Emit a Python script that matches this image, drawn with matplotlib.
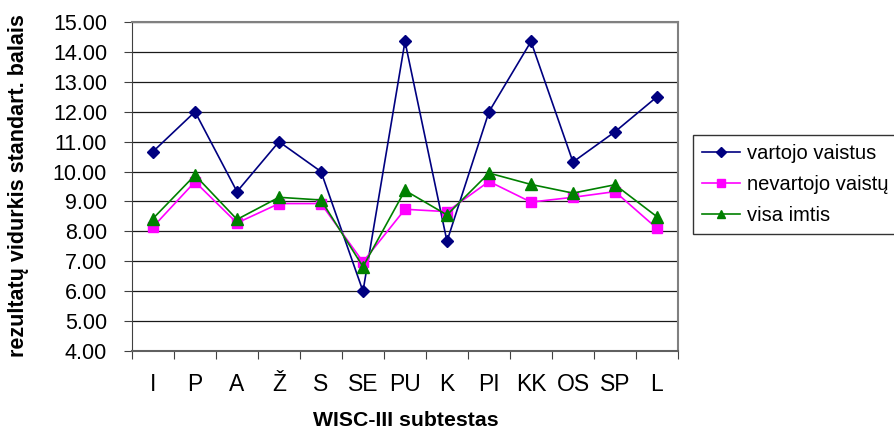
import matplotlib
matplotlib.use("Agg")
import matplotlib.pyplot as plt
import numpy as np

plt.rcParams['font.family'] = ['Liberation Sans', 'DejaVu Sans']

subtests = ['I', 'P', 'A', 'Ž', 'S', 'SE', 'PU', 'K', 'PI', 'KK', 'OS', 'SP', 'L']
vartojo = [10.67, 12.00, 9.33, 11.00, 10.00, 6.00, 14.35, 7.67, 12.00, 14.35, 10.32, 11.33, 12.50]
nevartojo = [8.15, 9.66, 8.28, 8.93, 8.93, 6.98, 8.74, 8.66, 9.67, 8.98, 9.14, 9.33, 8.10]
visa = [8.43, 9.88, 8.40, 9.14, 9.05, 6.82, 9.37, 8.55, 9.95, 9.57, 9.28, 9.56, 8.49]

fig = plt.figure(figsize=(8.95, 4.30), dpi=100)
ax = fig.add_axes([0.1475, 0.1837, 0.610, 0.765])

x = np.arange(len(subtests))
ax.plot(x, vartojo, color='#000080', marker='D', markersize=6, lw=1.2, label='vartojo vaistus')
ax.plot(x, nevartojo, color='#FF00FF', marker='s', markersize=7, lw=1.2, label='nevartojo vaistų')
ax.plot(x, visa, color='#008000', marker='^', markersize=8, lw=1.2, label='visa imtis')

ax.set_ylim(4, 15)
ax.set_yticks(np.arange(4, 16, 1))
ax.set_yticklabels([f'{v:.2f}' for v in np.arange(4, 16, 1)], fontsize=15.5)
ax.yaxis.grid(True, color='#1a1a1a', lw=0.9)
ax.set_axisbelow(True)

ax.set_xlim(-0.5, len(subtests) - 0.5)
ax.set_xticks(np.arange(-0.5, len(subtests), 1))
ax.set_xticklabels([])
ax.set_xticks(x, minor=True)
ax.set_xticklabels(subtests, minor=True, fontsize=16.5)
ax.tick_params(axis='x', which='minor', length=0, pad=16)
ax.tick_params(axis='x', which='major', length=6, color='#404040')
ax.tick_params(axis='y', length=6, color='#404040', pad=12)

for side in ['top', 'right']:
    ax.spines[side].set_color('#808080')
    ax.spines[side].set_linewidth(1.5)
ax.spines['left'].set_color('#404040')
ax.spines['bottom'].set_color('#606060')
ax.spines['bottom'].set_linewidth(1.5)

fig.text(0.021, 0.568, 'rezultatų vidurkis standart. balais', rotation=90,
         ha='center', va='center', fontsize=15.5, fontweight='bold')
fig.text(0.453, 0.022, 'WISC-III subtestas', ha='center', va='center',
         fontsize=15.3, fontweight='bold')

leg = fig.legend(loc='upper left', bbox_to_anchor=(693 / 895, 1 - 135 / 430),
                 fontsize=14.5, frameon=True, fancybox=False, edgecolor='#000000',
                 handlelength=1.9, handletextpad=0.35, labelspacing=0.6,
                 borderpad=0.45, borderaxespad=0, markerscale=0.8)
leg.get_frame().set_linewidth(1.0)

fig.savefig('out.png', dpi=100)
